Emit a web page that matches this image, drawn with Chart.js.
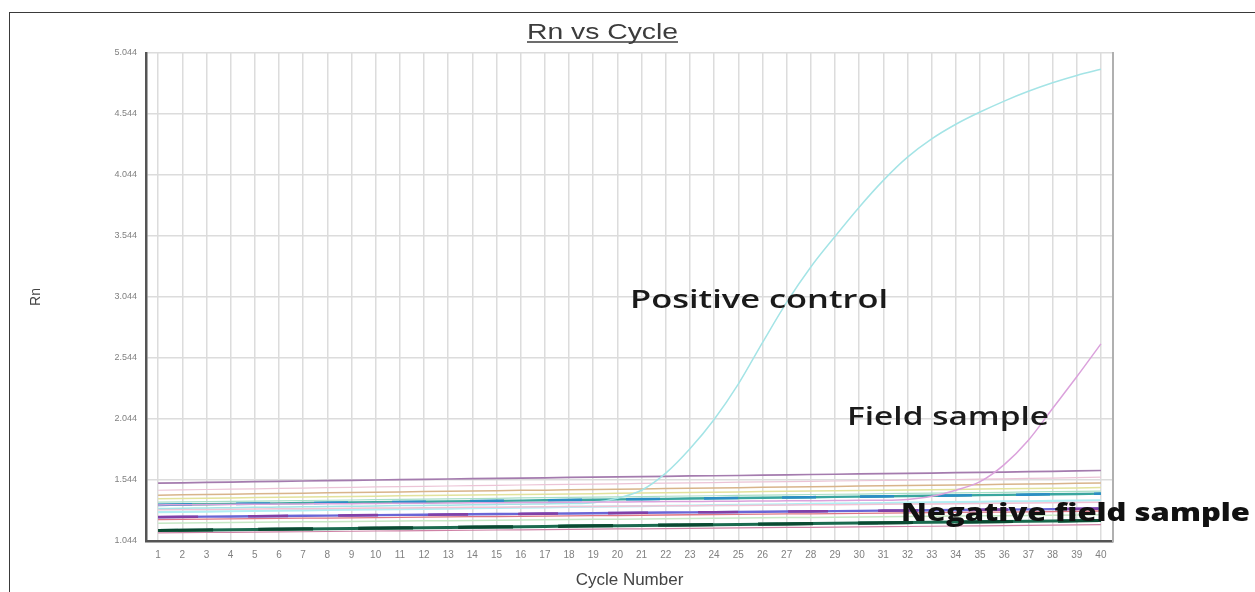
<!DOCTYPE html>
<html>
<head>
<meta charset="utf-8">
<script src="https://cdn.jsdelivr.net/npm/chart.js@4.4.0/dist/chart.umd.min.js"></script>
<style>
html,body{margin:0;padding:0;background:#fff;overflow:hidden;}
#wrap{position:relative;width:1255px;height:592px;overflow:hidden;}
#frame{position:absolute;left:9px;top:12px;width:1400px;height:800px;border-left:1.5px solid #3a3a3a;border-top:1.5px solid #3a3a3a;}
canvas{position:absolute;left:0;top:0;}
</style>
</head>
<body>
<div id="wrap"><div id="frame"></div><canvas id="c" width="1255" height="592"></canvas></div>
<script>
// ---- data ----
const cycles = ["1","2","3","4","5","6","7","8","9","10","11","12","13","14","15","16","17","18","19","20",
                "21","22","23","24","25","26","27","28","29","30","31","32","33","34","35","36","37","38","39","40"];
const yTicks = [1.044, 1.544, 2.044, 2.544, 3.044, 3.544, 4.044, 4.544, 5.044];

const positiveControl = [1.310,1.312,1.315,1.317,1.320,1.322,1.324,1.327,1.329,1.331,1.334,1.336,1.338,1.341,1.343,1.346,1.348,1.351,1.358,1.395,
                         1.46,1.60,1.80,2.04,2.33,2.67,3.00,3.29,3.54,3.78,4.00,4.19,4.34,4.46,4.56,4.65,4.73,4.80,4.86,4.91];
const fieldSample = [1.340,1.341,1.343,1.344,1.345,1.347,1.348,1.349,1.350,1.352,1.353,1.354,1.355,1.357,1.358,1.359,1.360,1.362,1.363,1.364,
                     1.365,1.367,1.368,1.369,1.370,1.372,1.373,1.374,1.375,1.377,1.378,1.385,1.41,1.46,1.53,1.67,1.87,2.13,2.39,2.66];

const negMauve = [1.518,1.521,1.524,1.527,1.530,1.533,1.536,1.539,1.541,1.544,1.547,1.549,1.552,1.555,1.557,1.560,1.562,1.565,1.567,1.569,
                  1.572,1.574,1.577,1.579,1.581,1.584,1.586,1.589,1.591,1.594,1.596,1.599,1.601,1.604,1.606,1.609,1.612,1.615,1.618,1.622];
const negRose = [1.460,1.463,1.466,1.469,1.472,1.475,1.478,1.481,1.484,1.487,1.490,1.492,1.495,1.498,1.500,1.503,1.506,1.508,1.511,1.513,
                 1.516,1.518,1.521,1.523,1.526,1.528,1.531,1.533,1.536,1.538,1.541,1.543,1.546,1.548,1.551,1.554,1.557,1.560,1.564,1.568];
const negTan = [1.420,1.423,1.426,1.428,1.431,1.434,1.436,1.439,1.441,1.444,1.446,1.449,1.451,1.454,1.456,1.459,1.461,1.464,1.466,1.469,
                1.471,1.474,1.476,1.479,1.481,1.484,1.486,1.489,1.491,1.494,1.496,1.499,1.501,1.504,1.506,1.509,1.511,1.514,1.517,1.520];
const negKhaki = [1.390,1.392,1.395,1.397,1.400,1.402,1.404,1.407,1.409,1.411,1.414,1.416,1.418,1.421,1.423,1.425,1.428,1.430,1.432,1.435,
                  1.437,1.439,1.442,1.444,1.446,1.449,1.451,1.453,1.456,1.458,1.460,1.463,1.465,1.467,1.470,1.472,1.474,1.477,1.479,1.482];
const negLightGreen = [1.362,1.364,1.366,1.369,1.371,1.373,1.376,1.378,1.380,1.383,1.385,1.387,1.390,1.392,1.394,1.397,1.399,1.401,1.404,1.406,
                       1.408,1.411,1.413,1.415,1.418,1.420,1.422,1.425,1.427,1.429,1.432,1.434,1.436,1.439,1.441,1.443,1.446,1.448,1.450,1.452];
const negTeal = [1.340,1.343,1.345,1.348,1.350,1.352,1.355,1.357,1.359,1.362,1.364,1.366,1.368,1.371,1.373,1.375,1.378,1.380,1.382,1.385,
                 1.387,1.389,1.392,1.394,1.396,1.399,1.401,1.403,1.406,1.408,1.410,1.413,1.415,1.417,1.420,1.422,1.424,1.427,1.429,1.432];
const negLightPink = [1.300,1.302,1.303,1.305,1.306,1.308,1.309,1.311,1.312,1.314,1.315,1.317,1.318,1.320,1.321,1.323,1.324,1.326,1.327,1.329,
                      1.330,1.332,1.333,1.335,1.336,1.338,1.339,1.341,1.342,1.344,1.345,1.347,1.348,1.350,1.351,1.353,1.355,1.357,1.360,1.362];
const negLightCyan = [1.280,1.283,1.285,1.288,1.290,1.293,1.295,1.298,1.300,1.303,1.305,1.308,1.310,1.313,1.315,1.318,1.320,1.323,1.325,1.328,
                      1.330,1.333,1.335,1.338,1.340,1.343,1.345,1.348,1.350,1.353,1.355,1.358,1.360,1.363,1.365,1.368,1.370,1.373,1.375,1.378];
const negBlue = [1.240,1.242,1.244,1.245,1.247,1.249,1.251,1.252,1.254,1.256,1.258,1.259,1.261,1.263,1.265,1.266,1.268,1.270,1.272,1.273,
                 1.275,1.277,1.279,1.280,1.282,1.284,1.286,1.287,1.289,1.291,1.293,1.294,1.296,1.298,1.300,1.301,1.303,1.305,1.307,1.310];
const negRed = [1.220,1.222,1.224,1.225,1.227,1.229,1.231,1.232,1.234,1.236,1.238,1.239,1.241,1.243,1.245,1.246,1.248,1.250,1.252,1.253,
                1.255,1.257,1.259,1.260,1.262,1.264,1.266,1.267,1.269,1.271,1.273,1.274,1.276,1.278,1.280,1.281,1.283,1.285,1.287,1.290];
const negPaleGreen = [1.190,1.192,1.194,1.195,1.197,1.199,1.201,1.202,1.204,1.206,1.208,1.209,1.211,1.213,1.215,1.216,1.218,1.220,1.222,1.223,
                      1.225,1.227,1.229,1.230,1.232,1.234,1.236,1.237,1.239,1.241,1.243,1.244,1.246,1.248,1.250,1.251,1.253,1.255,1.257,1.260];
const negDarkGreen = [1.130,1.132,1.134,1.137,1.139,1.141,1.143,1.145,1.147,1.149,1.151,1.153,1.155,1.157,1.159,1.161,1.163,1.166,1.168,1.170,
                      1.172,1.174,1.176,1.178,1.180,1.182,1.184,1.187,1.189,1.191,1.193,1.195,1.197,1.199,1.201,1.203,1.205,1.207,1.210,1.212];
const negBottom = [1.110,1.112,1.114,1.115,1.117,1.119,1.120,1.122,1.124,1.126,1.127,1.129,1.131,1.132,1.134,1.136,1.138,1.139,1.141,1.143,
                   1.144,1.146,1.148,1.150,1.151,1.153,1.155,1.156,1.158,1.160,1.162,1.163,1.165,1.167,1.168,1.170,1.172,1.174,1.176,1.178];

const chartTitle = "Rn vs Cycle";
const xTitle = "Cycle Number";
const yTitle = "Rn";
const notes = ["Positive control", "Field sample", "Negative field sample"];

// ---- styling (first entries drawn on top) ----
const series = [
  {label: "Field sample", data: fieldSample, color: "#dba2dc", w: 1.5, curve: true},
  {label: "Positive control", data: positiveControl, color: "#a4e4e6", w: 1.5, curve: true},
  {label: "Neg mauve", data: negMauve, color: "#a47bae", w: 1.7},
  {label: "Neg rose", data: negRose, color: "#ecc4d6", w: 1.2},
  {label: "Neg tan", data: negTan, color: "#d8b48a", w: 1.5},
  {label: "Neg khaki", data: negKhaki, color: "#e2e29c", w: 1.5},
  {label: "Neg light green", data: negLightGreen, color: "#a8dec6", w: 1.2},
  {label: "Neg teal b", data: negTeal, color: "#2b8ec4", w: 2.6, dash: [34, 44]},
  {label: "Neg teal", data: negTeal, color: "#3aa69f", w: 2.4},
  {label: "Neg light pink", data: negLightPink, color: "#f2c2d4", w: 1.5},
  {label: "Neg light cyan", data: negLightCyan, color: "#b0eef2", w: 2.2},
  {label: "Neg blue b", data: negBlue, color: "#8040a8", w: 2.6, dash: [40, 50]},
  {label: "Neg blue", data: negBlue, color: "#6a66d6", w: 2.4},
  {label: "Neg red", data: negRed, color: "#de7684", w: 1.3},
  {label: "Neg pale green", data: negPaleGreen, color: "#c6e8c4", w: 1.5},
  {label: "Neg dark green b", data: negDarkGreen, color: "#0b4a32", w: 3.2, dash: [55, 45]},
  {label: "Neg dark green c", data: negDarkGreen, color: "#6aa898", w: 3.0, dash: [20, 80]},
  {label: "Neg dark green", data: negDarkGreen, color: "#1b6a4f", w: 3.0},
  {label: "Neg bottom", data: negBottom, color: "#cf82a6", w: 1.2}
];

const datasets = series.map(s => ({
  label: s.label, data: s.data, borderColor: s.color, backgroundColor: s.color,
  borderWidth: s.w, borderDash: s.dash || [], pointRadius: 0, fill: false,
  tension: s.curve ? 0.35 : 0, cubicInterpolationMode: s.curve ? "monotone" : "default"
}));

const textPlugin = {
  id: "stretchedText",
  afterDatasetsDraw(chart) {
    const ctx = chart.ctx;
    const items = [
      {t: chartTitle, x: 527, y: 39, font: "22px 'Liberation Sans', Arial, sans-serif", w: 151, color: "#3c3c3c", underline: true},
      {t: notes[0], x: 630, y: 308, font: "600 25px 'Open Sans', sans-serif", w: 258, color: "#1a1a1a"},
      {t: notes[1], x: 847, y: 425, font: "600 25px 'Open Sans', sans-serif", w: 202, color: "#1a1a1a"},
      {t: notes[2], x: 901, y: 521, font: "800 25px 'Open Sans', sans-serif", w: 349, color: "#111"}
    ];
    items.forEach(it => {
      ctx.save();
      ctx.font = it.font;
      ctx.fillStyle = it.color;
      ctx.textBaseline = "alphabetic";
      ctx.textAlign = "left";
      const mw = ctx.measureText(it.t).width;
      const sx = it.w / mw;
      ctx.translate(it.x, it.y);
      ctx.scale(sx, 1);
      ctx.fillText(it.t, 0, 0);
      ctx.restore();
      if (it.underline) {
        ctx.save();
        ctx.strokeStyle = it.color;
        ctx.lineWidth = 1.5;
        ctx.beginPath();
        ctx.moveTo(it.x, it.y + 3);
        ctx.lineTo(it.x + it.w, it.y + 3);
        ctx.stroke();
        ctx.restore();
      }
    });
  }
};

new Chart(document.getElementById("c"), {
  type: "line",
  data: {labels: cycles, datasets},
  options: {
    responsive: false,
    animation: false,
    devicePixelRatio: 1,
    layout: {padding: {top: 53, right: 142, bottom: 0, left: 0}},
    plugins: {legend: {display: false}, tooltip: {enabled: false}, title: {display: false}},
    scales: {
      x: {
        type: "category",
        offset: true,
        grid: {offset: false, color: "#dcdcdc", lineWidth: 1.5, drawTicks: false},
        border: {color: "#555", width: 2.5},
        ticks: {autoSkip: false, maxRotation: 0, padding: 8, color: "#808080",
                font: {family: "'Liberation Sans', Arial, sans-serif", size: 10}},
        title: {display: true, text: xTitle, color: "#444",
                font: {family: "'Liberation Sans', Arial, sans-serif", size: 17},
                padding: {top: 0, bottom: 1}},
        afterFit: s => { s.height = 51; }
      },
      y: {
        type: "linear",
        min: 1.044, max: 5.044,
        afterBuildTicks: s => { s.ticks = yTicks.map(v => ({value: v})); },
        grid: {color: "#dcdcdc", lineWidth: 1.5, drawTicks: false},
        border: {color: "#555", width: 2.5},
        ticks: {padding: 9, color: "#808080", callback: v => Number(v).toFixed(3),
                font: {family: "'Liberation Sans', Arial, sans-serif", size: 9}},
        title: {display: true, text: yTitle, color: "#444",
                font: {family: "'Liberation Sans', Arial, sans-serif", size: 14},
                padding: {top: 28, bottom: 0}},
        afterFit: s => { s.width = 146; }
      },
      y2: {
        type: "linear", position: "right",
        grid: {display: false, drawTicks: false},
        ticks: {display: false},
        border: {color: "#b0b0b0", width: 2},
        afterFit: s => { s.width = 0; }
      }
    }
  },
  plugins: [textPlugin]
});
</script>
</body>
</html>
